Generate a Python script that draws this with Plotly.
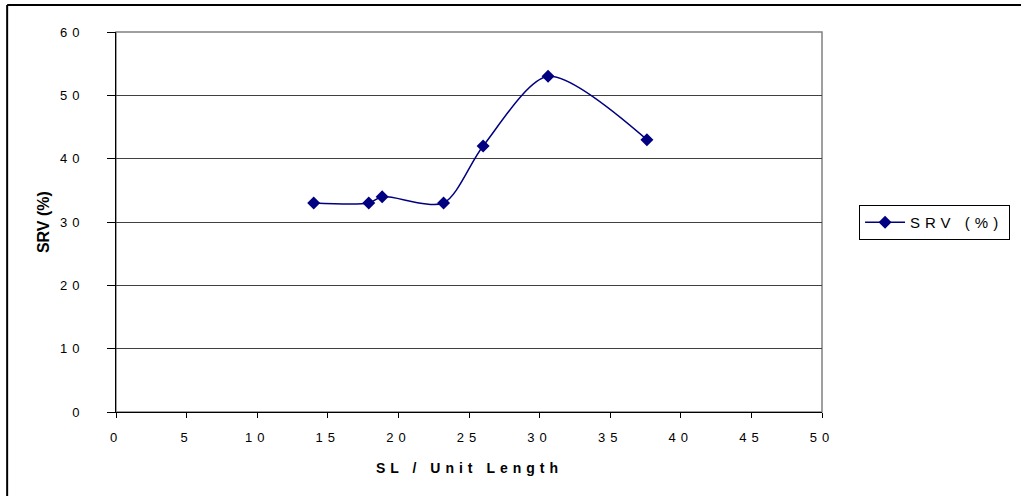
import plotly.graph_objects as go

sl = [14.0, 17.9, 18.85, 23.2, 26.0, 30.6, 37.6]
srv = [33, 33, 34, 33, 42, 53, 43]
series_name = "SRV (%)"
x_ticks = [0, 5, 10, 15, 20, 25, 30, 35, 40, 45, 50]
y_ticks = [0, 10, 20, 30, 40, 50, 60]

FONT = "Liberation Sans, Arial, sans-serif"
NAVY = "#000080"

def spaced(t, ls=4):
    return f'<span style="letter-spacing:{ls}px">{t}</span>'

fig = go.Figure()
fig.add_trace(go.Scatter(
    x=sl, y=srv, mode="lines+markers", name=spaced(series_name, 5),
    line=dict(color=NAVY, width=1.5, shape="spline", smoothing=0.8),
    marker=dict(symbol="diamond", size=10, color=NAVY),
))

ox = (7 - 116) / 707
oy = (412 - 5) / 380

fig.update_layout(
    width=1021, height=496,
    margin=dict(l=116, r=198, t=32, b=84),
    paper_bgcolor="white", plot_bgcolor="white",
    font=dict(family=FONT, size=13, color="black"),
    showlegend=True,
    legend=dict(x=1.051, y=0.545, xanchor="left", yanchor="top",
                bordercolor="black", borderwidth=1, bgcolor="white",
                font=dict(size=15, family=FONT), itemwidth=40),
    xaxis=dict(range=[0, 50], tickvals=x_ticks,
               ticktext=[spaced(str(v), 5) for v in x_ticks],
               showgrid=False, zeroline=False, showline=True,
               linecolor="black", linewidth=1, ticks="outside",
               ticklen=5, tickcolor="black", tickfont=dict(size=13),
               ticklabelstandoff=8),
    yaxis=dict(range=[0, 60], tickvals=y_ticks,
               ticktext=[spaced(str(v), 5) for v in y_ticks],
               showgrid=True, gridcolor="#404040", gridwidth=1,
               zeroline=False, showline=True, linecolor="black",
               linewidth=1, ticks="outside", ticklen=8, tickcolor="black",
               tickfont=dict(size=13), ticklabelstandoff=20),
    shapes=[
        dict(type="rect", xref="paper", yref="paper", x0=0, x1=1, y0=0, y1=1,
             line=dict(color="#808080", width=1.5), layer="below"),
        dict(type="line", xref="paper", yref="paper",
             x0=ox, x1=2, y0=oy, y1=oy,
             line=dict(color="black", width=2), layer="below"),
        dict(type="line", xref="paper", yref="paper",
             x0=ox, x1=ox, y0=-2, y1=oy,
             line=dict(color="black", width=2), layer="below"),
    ],
    annotations=[
        dict(text=spaced("<b>SL / Unit Length</b>", 5), xref="paper", yref="paper",
             x=(470 - 116) / 707, y=(412 - 468) / 380, xanchor="center",
             yanchor="middle", showarrow=False, font=dict(size=14, family=FONT)),
        dict(text="<b>SRV (%)</b>", xref="paper", yref="paper",
             x=(43 - 116) / 707, y=(412 - 222) / 380, xanchor="center",
             yanchor="middle", textangle=-90, showarrow=False,
             font=dict(size=16, family=FONT)),
    ],
)

fig.write_html("out.html")
